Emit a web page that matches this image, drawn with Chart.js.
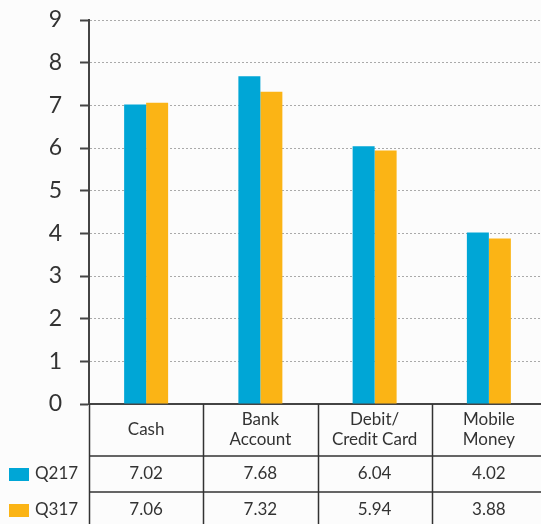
<!DOCTYPE html>
<html>
<head>
<meta charset="utf-8">
<script src="https://cdn.jsdelivr.net/npm/chart.js@4"></script>
<style>
  html, body { margin: 0; padding: 0; background: #fcfcfc; overflow: hidden; }
  #wrap { width: 560px; height: 524px; }
</style>
</head>
<body>
<div id="wrap"><canvas id="grafica"></canvas></div>
<script>
// datos
const categorias = [["Cash"], ["Bank", "Account"], ["Debit/", "Credit Card"], ["Mobile", "Money"]];
const series = ["Q217", "Q317"];
const q217 = [7.02, 7.68, 6.04, 4.02];
const q317 = [7.06, 7.32, 5.94, 3.88];
const colores = ["#00a6d6", "#fbb415"];

const fuente = "Lato, 'Open Sans', sans-serif";

// tabla de datos debajo del eje x
const tablaPlugin = {
    id: "tabla",
    afterDraw(chart) {
        const ctx = chart.ctx;
        const x = chart.scales.x;
        const area = chart.chartArea;
        const fila1 = area.bottom + 52;
        const fila2 = area.bottom + 88;
        const fin = chart.width;

        ctx.save();
        ctx.strokeStyle = "#333";
        ctx.lineWidth = 1.5;
        ctx.beginPath();
        ctx.moveTo(area.left, fila1); ctx.lineTo(fin, fila1);
        ctx.moveTo(area.left, fila2); ctx.lineTo(fin, fila2);
        const paso = (area.right - area.left) / categorias.length;
        for (let i = 0; i <= categorias.length; i++) {
            const vx = Math.round(area.left + i * paso) + 0.5;
            ctx.moveTo(vx, area.bottom); ctx.lineTo(vx, chart.height);
        }
        ctx.stroke();

        ctx.fillStyle = "#333";
        ctx.textAlign = "center";
        ctx.textBaseline = "middle";
        ctx.font = "17px " + fuente;
        categorias.forEach((c, i) => {
            const cx = x.getPixelForValue(i);
            const y0 = area.bottom + 26 - (c.length - 1) * 10;
            c.forEach((linea, j) => ctx.fillText(linea, cx, y0 + j * 20));
        });

        ctx.font = "17px " + fuente;
        [q217, q317].forEach((vals, s) => {
            const cy = s === 0 ? (fila1 + fila2) / 2 : fila2 + 18;
            vals.forEach((v, i) => ctx.fillText(v.toFixed(2), x.getPixelForValue(i), cy));
            ctx.fillStyle = colores[s];
            ctx.fillRect(9, cy - 6, 20, 13);
            ctx.fillStyle = "#333";
            ctx.textAlign = "left";
            ctx.fillText(series[s], 35, cy);
            ctx.textAlign = "center";
        });
        ctx.restore();
    }
};

new Chart(document.getElementById("grafica"), {
    type: "bar",
    data: {
        labels: categorias.map(c => c.join(" ")),
        datasets: [
            { label: series[0], data: q217, backgroundColor: colores[0] },
            { label: series[1], data: q317, backgroundColor: colores[1] }
        ]
    },
    options: {
        responsive: true,
        maintainAspectRatio: false,
        animation: false,
        layout: { padding: { top: 20, right: 14, bottom: 120, left: 0 } },
        datasets: { bar: { categoryPercentage: 0.385, barPercentage: 1 } },
        plugins: { legend: { display: false }, tooltip: { enabled: false } },
        scales: {
            x: {
                grid: { display: false },
                ticks: { display: false },
                border: { display: true, color: "#444", width: 2 },
                afterFit(s) { s.height = 0; }
            },
            y: {
                min: 0,
                max: 9,
                ticks: { stepSize: 1, padding: 18, color: "#333", font: { family: fuente, size: 23 } },
                grid: { color: "#aaa", tickColor: "#444", tickLength: 9, tickWidth: 2 },
                border: { color: "#444", width: 2, dash: [2, 2] },
                afterFit(s) { s.width = 89; s.paddingTop = 0; s.paddingBottom = 0; }
            }
        }
    },
    plugins: [tablaPlugin]
});
</script>
</body>
</html>
